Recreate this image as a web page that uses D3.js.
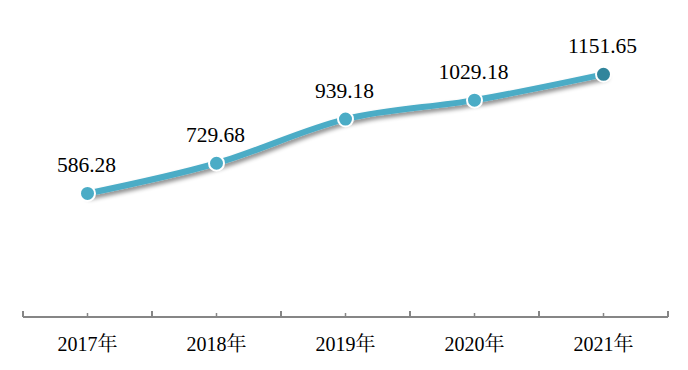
<!DOCTYPE html>
<html>
<head>
<meta charset="utf-8">
<script src="https://cdn.jsdelivr.net/npm/d3@7"></script>
<style>
  body { margin: 0; background: #fff; }
  svg { display: block; }
</style>
</head>
<body>
<figure id="line" style="margin:0"></figure>
<script>
// data
const years = ["2017年", "2018年", "2019年", "2020年", "2021年"];
const values = [586.28, 729.68, 939.18, 1029.18, 1151.65];

const width = 688, height = 370;
const left = 23, right = 668, axisY = 317;
const serif = "'Liberation Serif', 'Times New Roman', 'Noto Serif CJK SC', serif";

const svg = d3.select("figure#line")
  .append("svg")
  .attr("width", width)
  .attr("height", height);

const defs = svg.append("defs");
const f = defs.append("filter").attr("id", "shadow")
  .attr("x", "-10%").attr("y", "-30%").attr("width", "130%").attr("height", "180%");
f.append("feDropShadow")
  .attr("dx", 2).attr("dy", 3).attr("stdDeviation", 2)
  .attr("flood-color", "#000").attr("flood-opacity", 0.45);

const x = d3.scaleBand()
  .domain(years)
  .range([left, right]);

const y = d3.scaleLinear()
  .domain([0, 1400])
  .range([axisY, 22]);

const cx = d => x(d) + x.bandwidth() / 2;

// x axis: line + major ticks at band edges + minor ticks at centers
const axis = svg.append("g");
axis.append("line")
  .attr("x1", left).attr("x2", right)
  .attr("y1", axisY).attr("y2", axisY)
  .attr("stroke", "#868686").attr("stroke-width", 2);

const edges = years.map(d => x(d)).concat([right]);
axis.selectAll(".major").data(edges).enter().append("line")
  .attr("x1", d => d).attr("x2", d => d)
  .attr("y1", axisY).attr("y2", axisY - 6)
  .attr("stroke", "#868686").attr("stroke-width", 2);

axis.selectAll(".minor").data(years).enter().append("line")
  .attr("x1", d => cx(d)).attr("x2", d => cx(d))
  .attr("y1", axisY).attr("y2", axisY - 4)
  .attr("stroke", "#868686").attr("stroke-width", 1.5);

axis.selectAll(".tl").data(years).enter().append("text")
  .attr("x", d => cx(d))
  .attr("y", 351)
  .attr("text-anchor", "middle")
  .attr("font-family", serif)
  .attr("font-size", 20)
  .attr("fill", "#000")
  .text(d => d);

// the line
const pts = years.map((d, i) => [cx(d), y(values[i])]);
const line = d3.line().curve(d3.curveMonotoneX);

svg.append("path")
  .attr("d", line(pts))
  .attr("fill", "none")
  .attr("stroke", "#4BACC6")
  .attr("stroke-width", 6)
  .attr("stroke-linecap", "round")
  .attr("filter", "url(#shadow)");

// markers
svg.selectAll(".dot").data(years).enter().append("circle")
  .attr("cx", d => cx(d))
  .attr("cy", (d, i) => y(values[i]))
  .attr("r", 7.5)
  .attr("fill", (d, i) => i === years.length - 1 ? "#31859C" : "#4BACC6")
  .attr("stroke", "#fff")
  .attr("stroke-width", 2);

// value labels
svg.selectAll(".val").data(years).enter().append("text")
  .attr("x", d => cx(d) - 1)
  .attr("y", (d, i) => y(values[i]) - 21)
  .attr("text-anchor", "middle")
  .attr("font-family", serif)
  .attr("font-size", 21.5)
  .attr("fill", "#000")
  .text((d, i) => values[i].toFixed(2));
</script>
</body>
</html>
